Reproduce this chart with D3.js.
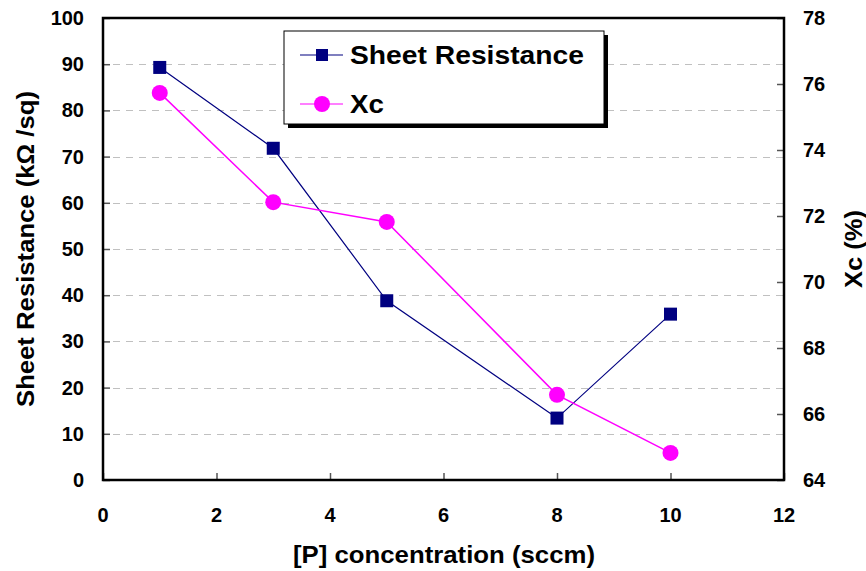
<!DOCTYPE html>
<html>
<head>
<meta charset="utf-8">
<script src="https://cdn.jsdelivr.net/npm/d3@7"></script>
<style>
  html, body { margin: 0; padding: 0; background: #fff; }
  text { font-family: Arial, "Liberation Sans", sans-serif; font-weight: bold; fill: #000; }
</style>
</head>
<body>
<svg id="chart" width="866" height="571"></svg>
<script>
// P flow (sccm)
const concentration = [1, 3, 5, 8, 10];
// Sheet resistance (kΩ/sq), left axis
const sheetResistance = [89.3, 71.8, 38.8, 13.4, 35.9];
// Crystalline fraction Xc (%), right axis
const xc = [75.73, 72.42, 71.82, 66.58, 64.82];

const xTicks = [0, 2, 4, 6, 8, 10, 12];
const leftTicks = [0, 10, 20, 30, 40, 50, 60, 70, 80, 90, 100];
const rightTicks = [64, 66, 68, 70, 72, 74, 76, 78];

const seriesNames = ["Sheet Resistance", "Xc"];
const seriesColors = ["#000080", "#FF00FF"];

const svg = d3.select("#chart");
const m = { left: 103, right: 784, top: 18, bottom: 480 };

const x = d3.scaleLinear().domain([0, 12]).range([m.left, m.right]);
const yL = d3.scaleLinear().domain([0, 100]).range([m.bottom, m.top]);
const yR = d3.scaleLinear().domain([64, 78]).range([m.bottom, m.top]);

// dashed horizontal gridlines at left-axis ticks
svg.append("g").selectAll("line")
  .data(leftTicks.filter(d => d > 0 && d < 100))
  .join("line")
  .attr("x1", m.left + 10).attr("x2", m.right)
  .attr("y1", d => Math.round(yL(d)) + 0.5).attr("y2", d => Math.round(yL(d)) + 0.5)
  .attr("stroke", "#c0c0c0").attr("stroke-width", 1)
  .attr("stroke-dasharray", "7,6");

// axes with inward ticks
const gx = svg.append("g").attr("transform", `translate(0,${m.bottom})`)
  .call(d3.axisTop(x).tickValues(xTicks).tickSize(7).tickFormat(""));
const gl = svg.append("g").attr("transform", `translate(${m.left},0)`)
  .call(d3.axisRight(yL).tickValues(leftTicks).tickSize(7).tickFormat(""));
const gr = svg.append("g").attr("transform", `translate(${m.right},0)`)
  .call(d3.axisLeft(yR).tickValues(rightTicks).tickSize(7).tickFormat(""));
[gx, gl, gr].forEach(g => {
  g.select(".domain").remove();
  g.selectAll(".tick line").attr("stroke", "#555").attr("stroke-width", 1.5);
});

// plot frame
svg.append("rect")
  .attr("x", m.left).attr("y", m.top)
  .attr("width", m.right - m.left).attr("height", m.bottom - m.top)
  .attr("fill", "none").attr("stroke", "#000").attr("stroke-width", 2.5);

// tick labels
svg.append("g").selectAll("text").data(xTicks).join("text")
  .attr("x", d => x(d)).attr("y", 522)
  .attr("text-anchor", "middle").attr("font-size", 20).text(d => d);
svg.append("g").selectAll("text").data(leftTicks).join("text")
  .attr("x", 84).attr("y", d => yL(d) + 7)
  .attr("text-anchor", "end").attr("font-size", 20).text(d => d);
svg.append("g").selectAll("text").data(rightTicks).join("text")
  .attr("x", 803).attr("y", d => yR(d) + 7)
  .attr("text-anchor", "start").attr("font-size", 20).text(d => d);

// axis titles
svg.append("text").attr("x", 444).attr("y", 563)
  .attr("text-anchor", "middle").attr("font-size", 24)
  .attr("textLength", 302).attr("lengthAdjust", "spacingAndGlyphs")
  .text("[P] concentration (sccm)");
svg.append("text")
  .attr("transform", `translate(34,${(m.top + m.bottom) / 2}) rotate(-90)`)
  .attr("text-anchor", "middle").attr("font-size", 24)
  .attr("textLength", 316).attr("lengthAdjust", "spacingAndGlyphs")
  .text("Sheet Resistance (kΩ /sq)");
svg.append("text")
  .attr("transform", `translate(862,${(m.top + m.bottom) / 2}) rotate(-90)`)
  .attr("text-anchor", "middle").attr("font-size", 24)
  .attr("textLength", 78).attr("lengthAdjust", "spacingAndGlyphs")
  .text("Xc (%)");

// series
const srPts = concentration.map((c, i) => [x(c), yL(sheetResistance[i])]);
const xcPts = concentration.map((c, i) => [x(c), yR(xc[i])]);
const line = d3.line();

svg.append("path").attr("d", line(srPts))
  .attr("fill", "none").attr("stroke", seriesColors[0]).attr("stroke-width", 1.2);
svg.append("path").attr("d", line(xcPts))
  .attr("fill", "none").attr("stroke", seriesColors[1]).attr("stroke-width", 1.5);

const sq = 13;
svg.append("g").selectAll("rect").data(srPts).join("rect")
  .attr("x", d => d[0] - sq / 2).attr("y", d => d[1] - sq / 2)
  .attr("width", sq).attr("height", sq).attr("fill", seriesColors[0]);
svg.append("g").selectAll("circle").data(xcPts).join("circle")
  .attr("cx", d => d[0]).attr("cy", d => d[1]).attr("r", 8)
  .attr("fill", seriesColors[1]);

// legend with drop shadow
const lg = { x: 284, y: 31, w: 320, h: 93 };
svg.append("rect").attr("x", lg.x + 4).attr("y", lg.y + 4)
  .attr("width", lg.w).attr("height", lg.h).attr("fill", "#000");
svg.append("rect").attr("x", lg.x).attr("y", lg.y)
  .attr("width", lg.w).attr("height", lg.h)
  .attr("fill", "#fff").attr("stroke", "#000").attr("stroke-width", 1);

const rows = [55, 104];
const labelLengths = [234, 34];
seriesNames.forEach((name, i) => {
  const cy = rows[i];
  svg.append("line").attr("x1", 300).attr("x2", 343)
    .attr("y1", cy).attr("y2", cy)
    .attr("stroke", seriesColors[i]).attr("stroke-width", 1.2);
  if (i === 0) {
    svg.append("rect").attr("x", 322 - 6).attr("y", cy - 6)
      .attr("width", 12).attr("height", 12).attr("fill", seriesColors[i]);
  } else {
    svg.append("circle").attr("cx", 322).attr("cy", cy).attr("r", 8)
      .attr("fill", seriesColors[i]);
  }
  svg.append("text").attr("x", 350).attr("y", cy + 9)
    .attr("font-size", 25)
    .attr("textLength", labelLengths[i]).attr("lengthAdjust", "spacingAndGlyphs")
    .text(name);
});
</script>
</body>
</html>
